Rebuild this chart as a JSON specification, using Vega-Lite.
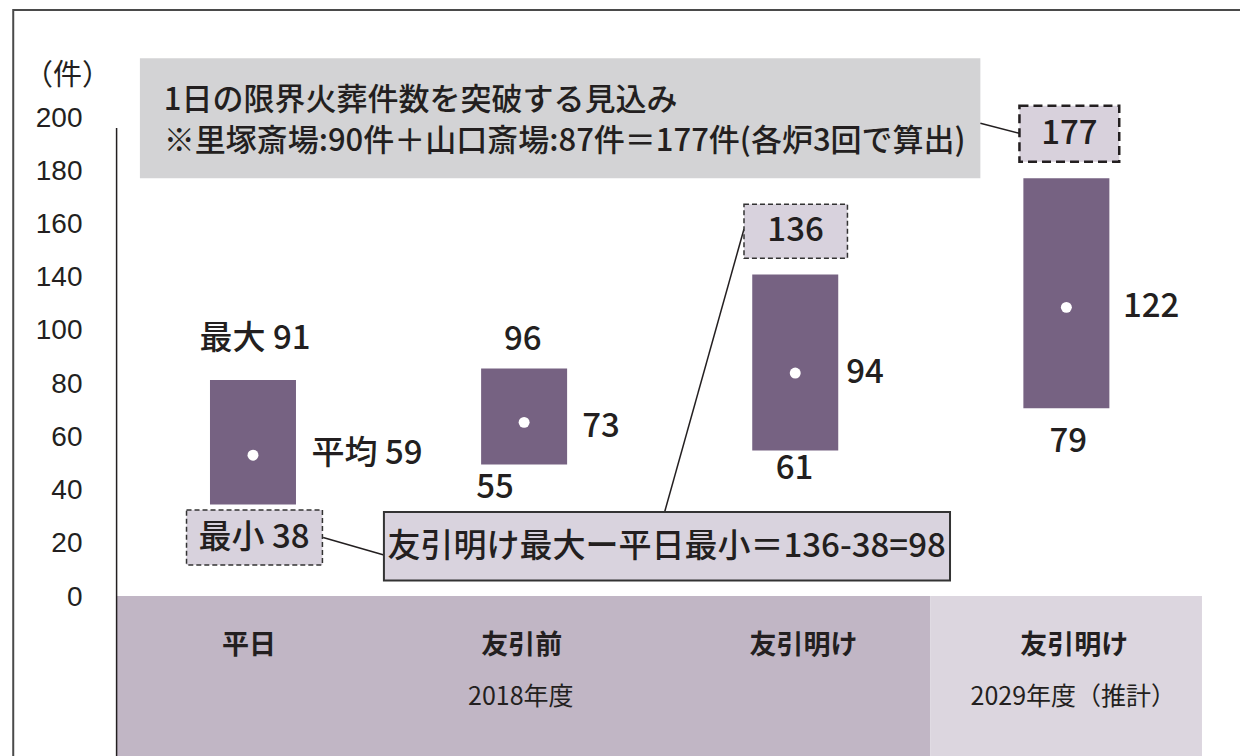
{
  "$schema": "https://vega.github.io/schema/vega-lite/v6.json",
  "width": 1240,
  "height": 756,
  "autosize": {"type": "none"},
  "padding": 0,
  "background": "white",
  "config": {
    "view": {"stroke": null},
    "text": {"color": "#231f20", "font": "Noto Sans CJK JP"}
  },
  "datasets": {
    "frame": [{"x": 0.11573, "x2": 5.0, "y": 248.70, "y2": -90}],
    "bands": [
      {"period": "2018年度", "x": 0.49695, "x2": 3.49768, "y": -0.98, "y2": -76},
      {"period": "2029年度（推計）", "x": 3.49768, "x2": 4.50012, "y": -0.98, "y2": -76}
    ],
    "axisline": [{"x": 0.49695, "y": 198.42, "y2": -76}],
    "note": [{"x": 0.58293, "x2": 3.68280, "y": 228.12, "y2": 176.99}],
    "noteText": [
      {"x": 0.67073, "y": 210.14, "text": "1日の限界火葬件数を突破する見込み"},
      {"x": 0.67073, "y": 192.67, "text": "※里塚斎場:90件＋山口斎場:87件＝177件(各炉3回で算出)"}
    ],
    "connectors": [
      {"x": 3.68280, "x2": 3.82695, "y": 200.43, "y2": 196.17},
      {"x": 1.25866, "x2": 1.48293, "y": 23.95, "y2": 16.49},
      {"x": 2.51829, "x2": 2.81098, "y": 34.81, "y2": 155.39}
    ],
    "dashBoxBig": [{"x": 3.82695, "x2": 4.19500, "y": 207.93, "y2": 184.07}],
    "dashBoxSmall": [
      {"x": 2.81098, "x2": 3.19256, "y": 165.92, "y2": 142.91},
      {"x": 0.75488, "x2": 1.25610, "y": 35.66, "y2": 12.23}
    ],
    "diffBox": [{"x": 1.48293, "x2": 3.57085, "y": 34.81, "y2": 5.62}],
    "ranges": [
      {"cat": "平日", "x": 1, "y": 38, "y2": 91},
      {"cat": "友引前", "x": 2, "y": 55, "y2": 96},
      {"cat": "友引明け", "x": 3, "y": 61, "y2": 136},
      {"cat": "友引明け(2029)", "x": 4, "y": 79, "y2": 177}
    ],
    "means": [
      {"cat": "平日", "x": 1, "y": 59},
      {"cat": "友引前", "x": 2, "y": 73},
      {"cat": "友引明け", "x": 3, "y": 94},
      {"cat": "友引明け(2029)", "x": 4, "y": 122}
    ],
    "labelsC": [
      {"x": 1.00732, "y": 108.52, "text": "最大 91"},
      {"x": 1.99512, "y": 108.09, "text": "96"},
      {"x": 1.89268, "y": 45.04, "text": "55"},
      {"x": 2.99756, "y": 53.14, "text": "61"},
      {"x": 4.00732, "y": 64.76, "text": "79"},
      {"x": 4.01098, "y": 195.87, "text": "177"},
      {"x": 3.00122, "y": 154.54, "text": "136"},
      {"x": 1.00366, "y": 23.73, "text": "最小 38"},
      {"x": 2.52561, "y": 19.90, "text": "友引明け最大ー平日最小＝136-38=98"}
    ],
    "labelsL": [
      {"x": 1.21585, "y": 59.31, "text": "平均 59"},
      {"x": 2.21463, "y": 71.03, "text": "73"},
      {"x": 3.18780, "y": 94.04, "text": "94"},
      {"x": 4.20854, "y": 122.28, "text": "122"}
    ],
    "cats": [
      {"x": 0.98537, "y": -22.28, "text": "平日"},
      {"x": 1.99146, "y": -22.28, "text": "友引前"},
      {"x": 3.03049, "y": -22.28, "text": "友引明け"},
      {"x": 4.02927, "y": -22.28, "text": "友引明け"}
    ],
    "years": [
      {"x": 1.98780, "y": -44.02, "text": "2018年度"},
      {"x": 4.02561, "y": -44.02, "text": "2029年度（推計）"}
    ]
  },
  "encoding": {
    "x": {"field": "x", "type": "quantitative", "scale": {"domain": [0.08537, 4.62195], "nice": false, "zero": false}, "axis": null},
    "y": {
      "field": "y", "type": "quantitative",
      "scale": {"domain": [-69.152, 252.961], "nice": false, "zero": false},
      "axis": {
        "title": "（件）", "titleAngle": 0, "titleX": -15, "titleY": 75,
        "titleAlign": "center", "titleBaseline": "middle",
        "titleFont": "Noto Sans CJK JP", "titleFontSize": 29, "titleFontWeight": "normal", "titleColor": "#231f20",
        "values": [-1.406, 21.27, 43.946, 66.622, 89.298, 111.974, 134.65, 157.326, 180.002, 202.678],
        "labelExpr": "['0','20','40','60','80','100','140','160','180','200'][round((datum.value + 1.406) / 22.676)]",
        "domain": false, "ticks": false, "tickSize": 0, "grid": false,
        "labelPadding": 0, "offset": -82,
        "labelFont": "Liberation Sans", "labelFontSize": 28, "labelColor": "#231f20",
        "labelAlign": "right", "labelBaseline": "middle",
        "labelOverlap": false, "labelBound": false, "labelFlush": false
      }
    }
  },
  "layer": [
    {
      "data": {"name": "bands"},
      "mark": {"type": "rect"},
      "encoding": {
        "x2": {"field": "x2"}, "y2": {"field": "y2"},
        "color": {"field": "period", "type": "nominal", "scale": {"domain": ["2018年度", "2029年度（推計）"], "range": ["#c1b6c5", "#dcd6df"]}, "legend": null}
      }
    },
    {
      "data": {"name": "frame"},
      "mark": {"type": "rect", "fillOpacity": 0, "stroke": "#4a4a4a", "strokeWidth": 2},
      "encoding": {"x2": {"field": "x2"}, "y2": {"field": "y2"}}
    },
    {
      "data": {"name": "axisline"},
      "mark": {"type": "rule", "color": "#231f20", "strokeWidth": 1.5},
      "encoding": {"y2": {"field": "y2"}}
    },
    {
      "data": {"name": "note"},
      "mark": {"type": "rect", "fill": "#d3d3d5"},
      "encoding": {"x2": {"field": "x2"}, "y2": {"field": "y2"}}
    },
    {
      "data": {"name": "connectors"},
      "mark": {"type": "rule", "color": "#231f20", "strokeWidth": 1.5},
      "encoding": {"x2": {"field": "x2"}, "y2": {"field": "y2"}}
    },
    {
      "data": {"name": "dashBoxBig"},
      "mark": {"type": "rect", "fill": "#d8d1dc", "stroke": "#231f20", "strokeWidth": 2.5, "strokeDash": [9, 5]},
      "encoding": {"x2": {"field": "x2"}, "y2": {"field": "y2"}}
    },
    {
      "data": {"name": "dashBoxSmall"},
      "mark": {"type": "rect", "fill": "#d8d2dd", "stroke": "#333333", "strokeWidth": 1.5, "strokeDash": [5, 3]},
      "encoding": {"x2": {"field": "x2"}, "y2": {"field": "y2"}}
    },
    {
      "data": {"name": "diffBox"},
      "mark": {"type": "rect", "fill": "#d9d3de", "stroke": "#333333", "strokeWidth": 2},
      "encoding": {"x2": {"field": "x2"}, "y2": {"field": "y2"}}
    },
    {
      "data": {"name": "ranges"},
      "mark": {"type": "bar", "width": 86, "color": "#766282"},
      "encoding": {"y2": {"field": "y2"}}
    },
    {
      "data": {"name": "means"},
      "mark": {"type": "circle", "size": 120, "color": "white", "opacity": 1}
    },
    {
      "data": {"name": "labelsC"},
      "mark": {"type": "text", "align": "center", "baseline": "middle", "fontSize": 33, "fontWeight": 500},
      "encoding": {"text": {"field": "text"}}
    },
    {
      "data": {"name": "labelsL"},
      "mark": {"type": "text", "align": "left", "baseline": "middle", "fontSize": 33, "fontWeight": 500},
      "encoding": {"text": {"field": "text"}}
    },
    {
      "data": {"name": "noteText"},
      "mark": {"type": "text", "align": "left", "baseline": "middle", "fontSize": 31, "fontWeight": 500},
      "encoding": {"text": {"field": "text"}}
    },
    {
      "data": {"name": "cats"},
      "mark": {"type": "text", "align": "center", "baseline": "middle", "fontSize": 27, "fontWeight": "bold"},
      "encoding": {"text": {"field": "text"}}
    },
    {
      "data": {"name": "years"},
      "mark": {"type": "text", "align": "center", "baseline": "middle", "fontSize": 25},
      "encoding": {"text": {"field": "text"}}
    }
  ]
}
